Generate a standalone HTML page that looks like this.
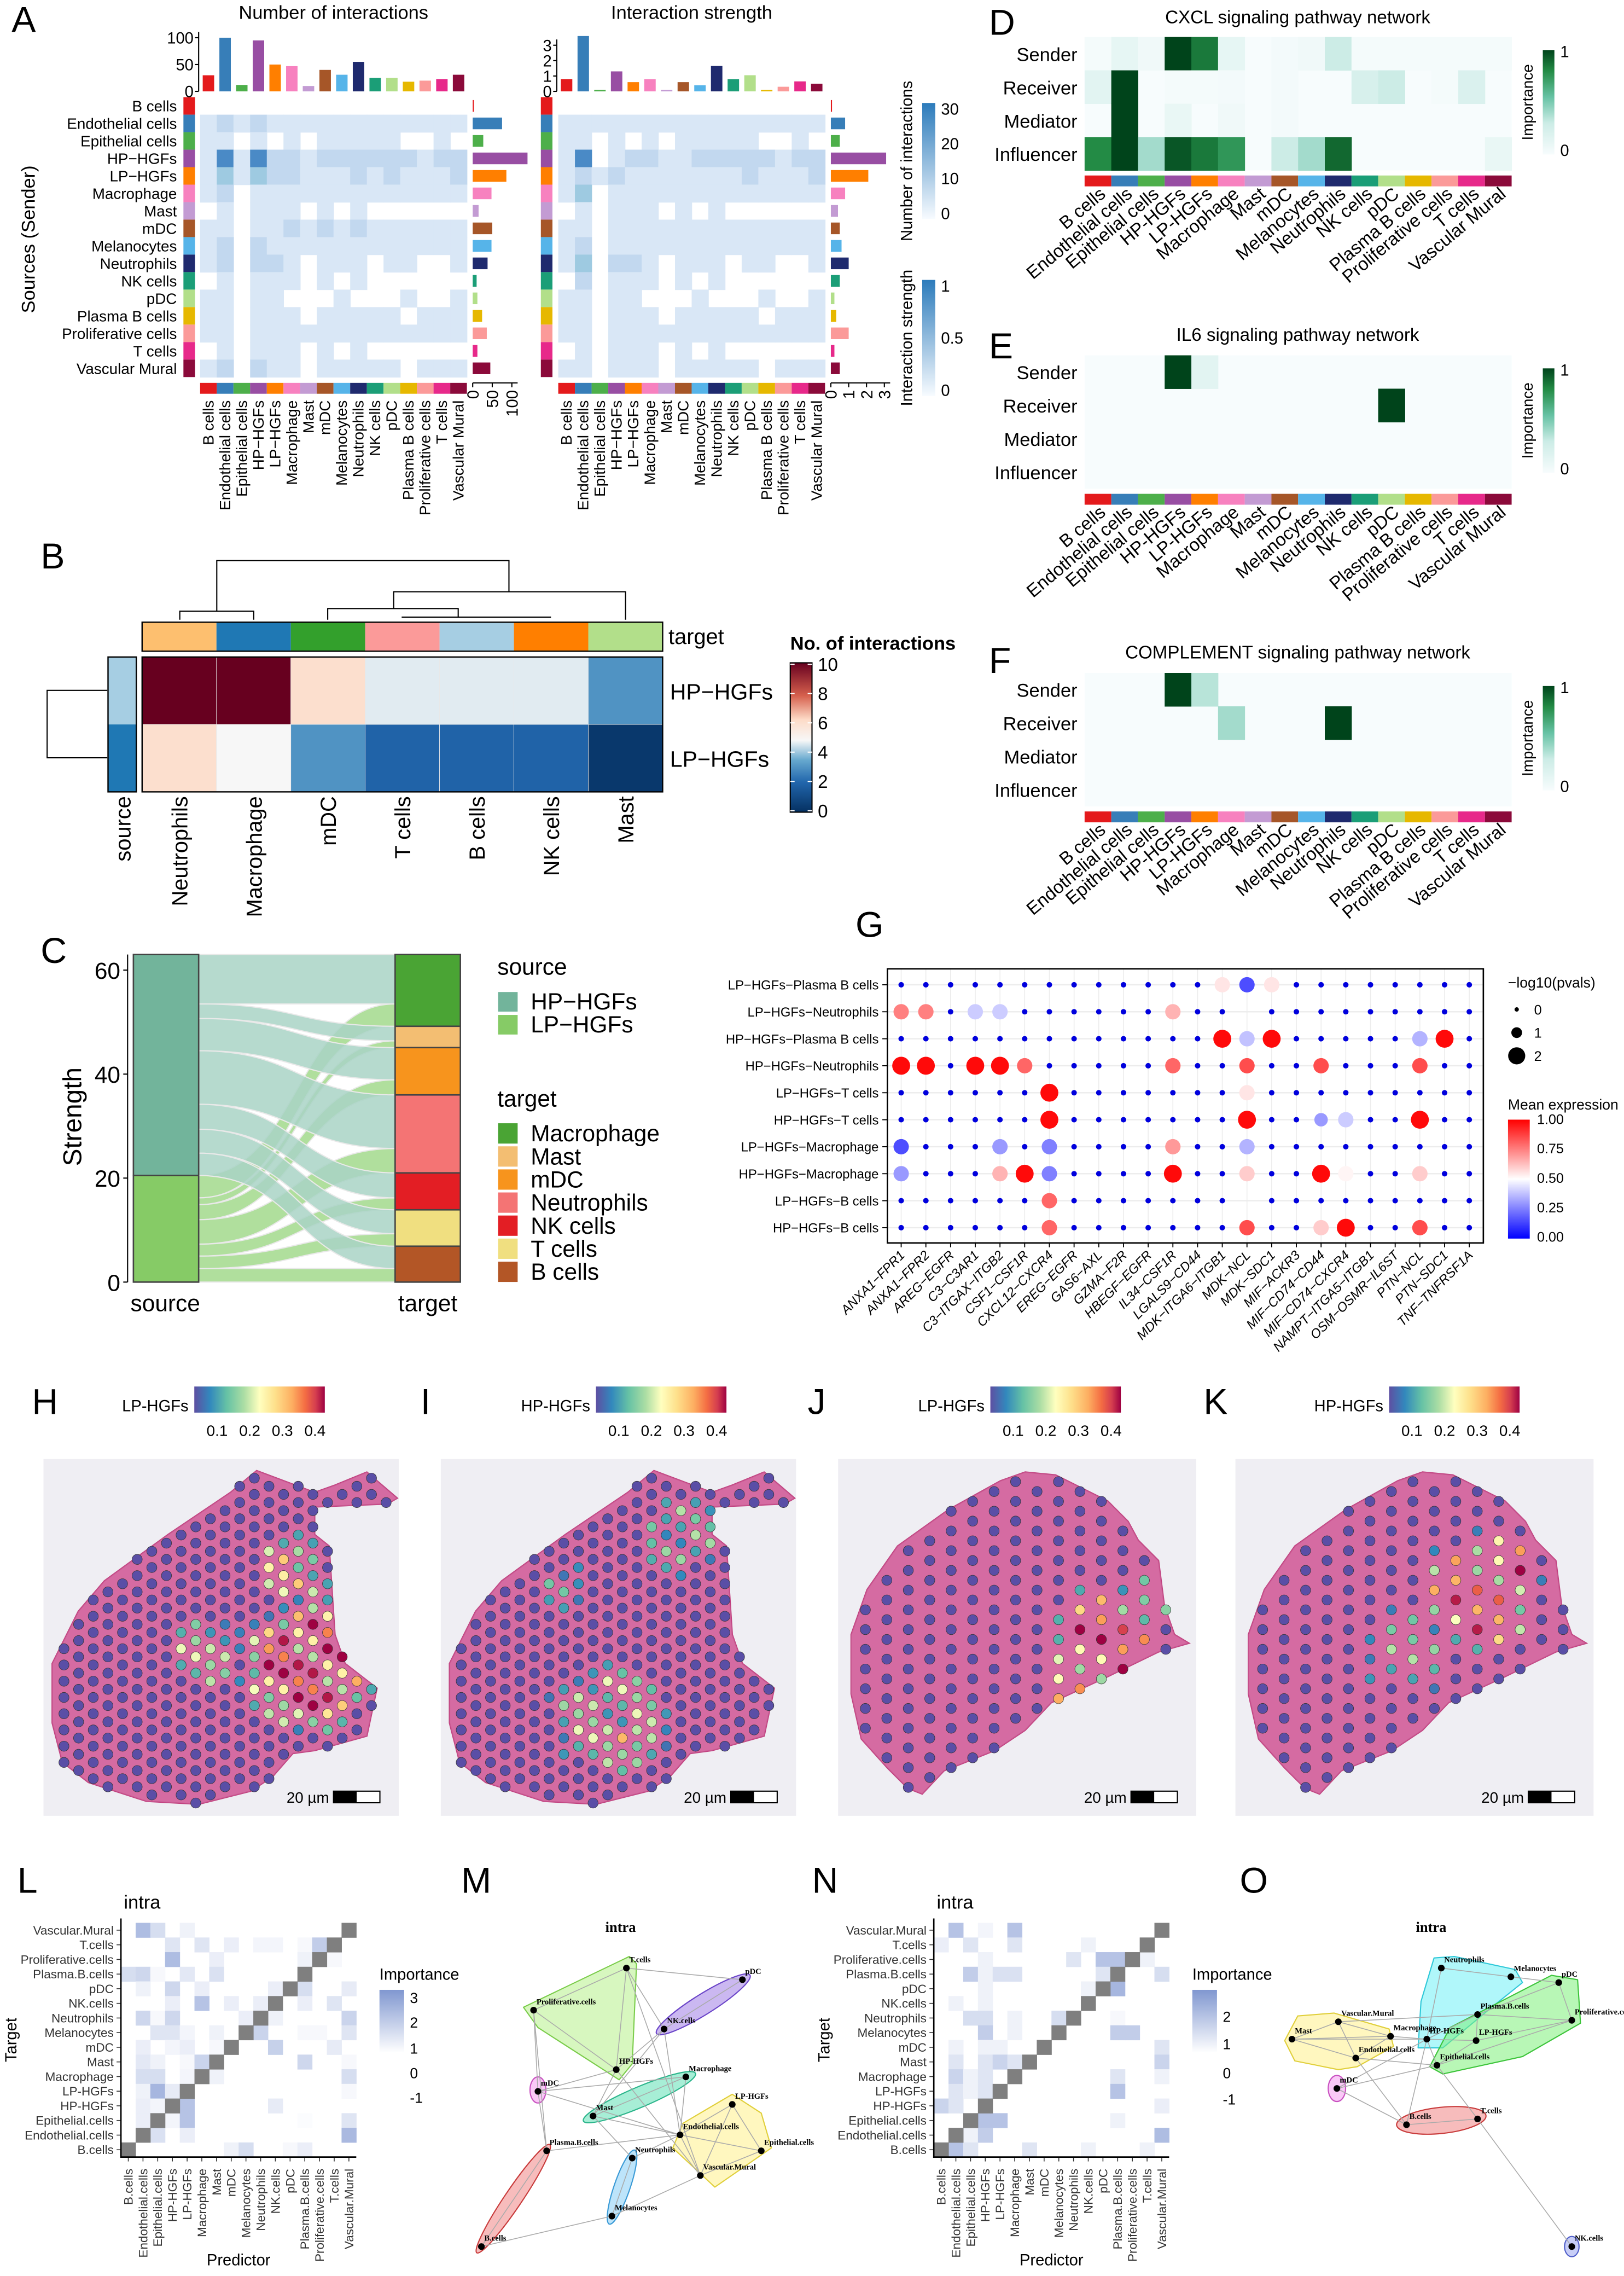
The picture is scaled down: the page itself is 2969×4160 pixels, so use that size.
<!DOCTYPE html>
<html><head><meta charset="utf-8"><title>Figure</title>
<style>
html,body{margin:0;padding:0;background:#fff;}
svg{display:block;font-family:"Liberation Sans",Arial,sans-serif;}
</style></head>
<body>
<svg id="fig" xmlns="http://www.w3.org/2000/svg" width="2969" height="4160" viewBox="0 0 1120 1569.3" preserveAspectRatio="none">
<defs>
<linearGradient id="gBlue" x1="0" y1="1" x2="0" y2="0"><stop offset="0" stop-color="#f7fbff"/><stop offset="1" stop-color="#2c7bbb"/></linearGradient>
<linearGradient id="gGreen" x1="0" y1="1" x2="0" y2="0"><stop offset="0" stop-color="#f7fcfd"/><stop offset="0.3" stop-color="#ccece6"/><stop offset="0.55" stop-color="#66c2a4"/><stop offset="0.8" stop-color="#238b45"/><stop offset="1" stop-color="#00441b"/></linearGradient>
<linearGradient id="gRdBu" x1="0" y1="1" x2="0" y2="0"><stop offset="0" stop-color="#053061"/><stop offset="0.2" stop-color="#2166ac"/><stop offset="0.35" stop-color="#67a9cf"/><stop offset="0.48" stop-color="#f7f7f7"/><stop offset="0.62" stop-color="#fddbc7"/><stop offset="0.78" stop-color="#d6604d"/><stop offset="1" stop-color="#67001f"/></linearGradient>
<linearGradient id="gBWR" x1="0" y1="1" x2="0" y2="0"><stop offset="0" stop-color="#0000ff"/><stop offset="0.5" stop-color="#ffffff"/><stop offset="1" stop-color="#ff0000"/></linearGradient>
<linearGradient id="gSpec" x1="0" y1="0" x2="1" y2="0"><stop offset="0" stop-color="#5e4fa2"/><stop offset="0.12" stop-color="#3288bd"/><stop offset="0.25" stop-color="#66c2a5"/><stop offset="0.38" stop-color="#abdda4"/><stop offset="0.5" stop-color="#ffffbf"/><stop offset="0.62" stop-color="#fee08b"/><stop offset="0.75" stop-color="#fdae61"/><stop offset="0.85" stop-color="#f46d43"/><stop offset="0.93" stop-color="#d53e4f"/><stop offset="1" stop-color="#9e0142"/></linearGradient>
<linearGradient id="gImp" x1="0" y1="1" x2="0" y2="0"><stop offset="0" stop-color="#ffffff"/><stop offset="0.3" stop-color="#ffffff"/><stop offset="1" stop-color="#8097d0"/></linearGradient>
</defs>
</svg>
<script>
// ---------- data ----------
const cells=["B cells","Endothelial cells","Epithelial cells","HP−HGFs","LP−HGFs","Macrophage","Mast","mDC","Melanocytes","Neutrophils","NK cells","pDC","Plasma B cells","Proliferative cells","T cells","Vascular Mural"];
const cellColors=["#e41a1c","#377eb8","#4daf4a","#984ea3","#ff7f00","#f781bf","#c39bd3","#a65628","#56b4e9","#1f2a6e","#1b9e77","#b2df8a","#e6b800","#fb9a99","#e7298a","#8b0a3a"];
const countTop=[30,100,12,95,50,47,10,40,31,55,25,25,18,20,23,31];
const countRight=[2,75,27,140,86,48,15,50,48,38,10,12,24,36,12,45];
const strengthTop=[0.8,3.6,0.1,1.3,0.6,0.8,0.1,0.6,0.4,1.65,0.8,1.05,0.1,0.3,0.65,0.5];
const strengthRight=[0.05,0.8,0.5,3.1,2.1,0.8,0.4,0.5,0.6,1.0,0.5,0.2,0.3,1.0,0.2,0.5];
const countMatrix=["0000000000000000","1212111111111111","1101010111110010","1414221222222122","1313221112121112","1201111111111111","0101110101000000","1101121212111111","1202111111111111","1202210111011001","0101110101000000","1101100010001001","1101110111110111","1101111111111111","0101110101000000","1202110111110111"];
const strengthMatrix=["0000000000000000","1111111111111111","1101010111110010","1401221122222122","1212111111121112","1301111111111111","0101110101000000","1101111111111111","1201111111111111","1302210111011001","0201110101000000","1101100010001001","1101110111110111","1101111111111111","0101110101000000","1101110111110111"];
const roleRows=["Sender","Receiver","Mediator","Influencer"];
const cxclVals=[[0.02,0.12,0.05,1,0.85,0.12,0,0.03,0.05,0.3,0.02,0.02,0.02,0.02,0.02,0.02],[0.15,1,0,0.02,0.02,0.03,0,0.03,0,0,0.22,0.3,0,0.02,0.2,0],[0,1,0,0.1,0,0.05,0,0.03,0,0,0,0,0,0,0,0],[0.8,1,0.4,0.95,0.85,0.75,0,0.3,0.4,0.9,0,0,0,0,0,0.1]];
const il6Vals=[[0,0,0,1,0.15,0,0,0,0,0,0,0,0,0,0,0],[0,0,0,0,0,0,0,0,0,0,0,1,0,0,0,0],[0,0,0,0,0,0,0,0,0,0,0,0,0,0,0,0],[0,0,0,0,0,0,0,0,0,0,0,0,0,0,0,0]];
const compVals=[[0,0,0,1,0.35,0,0,0,0,0,0,0,0,0,0,0],[0,0,0,0,0,0.4,0,0,0,1,0,0,0,0,0,0],[0,0,0,0,0,0,0,0,0,0,0,0,0,0,0,0],[0,0,0,0,0,0,0,0,0,0,0,0,0,0,0,0]];
const bTargets=["Neutrophils","Macrophage","mDC","T cells","B cells","NK cells","Mast"];
const bTargetColors=["#fdbf6f","#1f78b4","#33a02c","#fb9a99","#a6cee3","#ff7f00","#b2df8a"];
const bSources=["HP−HGFs","LP−HGFs"];
const bSourceColors=["#a6cee3","#1f78b4"];
const bValsHP=[10,10,6,4.6,4.6,4.6,3];
const bValsLP=[6,4.8,3,1.9,1.9,1.9,0.3];
const cTargets=["Macrophage","Mast","mDC","Neutrophils","NK cells","T cells","B cells"];
const cTargetColors=["#4aa434","#f3be72","#f7941d","#f47474","#e31e24","#f0df80","#b35626"];
const cHP=[9.5,2.8,6.2,10.3,4.8,4.6,4.3];
const cLP=[4.3,1.3,2.9,4.7,2.3,2.4,2.6];
const gRows=["LP−HGFs−Plasma B cells","LP−HGFs−Neutrophils","HP−HGFs−Plasma B cells","HP−HGFs−Neutrophils","LP−HGFs−T cells","HP−HGFs−T cells","LP−HGFs−Macrophage","HP−HGFs−Macrophage","LP−HGFs−B cells","HP−HGFs−B cells"];
const gCols=["ANXA1−FPR1","ANXA1−FPR2","AREG−EGFR","C3−C3AR1","C3−ITGAX−ITGB2","CSF1−CSF1R","CXCL12−CXCR4","EREG−EGFR","GAS6−AXL","GZMA−F2R","HBEGF−EGFR","IL34−CSF1R","LGALS9−CD44","MDK−ITGA6−ITGB1","MDK−NCL","MDK−SDC1","MIF−ACKR3","MIF−CD74−CD44","MIF−CD74−CXCR4","NAMPT−ITGA5−ITGB1","OSM−OSMR−IL6ST","PTN−NCL","PTN−SDC1","TNF−TNFRSF1A"];
// [row, col, -log10p, mean expression]
const gDots=[[0,13,1.5,0.55],[0,14,1.5,0.15],[0,15,1.5,0.55],
[1,0,1.5,0.75],[1,1,1.5,0.75],[1,3,1.5,0.4],[1,4,1.5,0.4],[1,11,1.5,0.65],[1,14,-1,0.5],
[2,13,1.9,0.98],[2,14,1.5,0.38],[2,15,1.9,0.98],[2,21,1.5,0.35],[2,22,1.9,0.98],
[3,0,1.9,0.98],[3,1,1.9,0.98],[3,3,1.9,0.98],[3,4,1.9,0.98],[3,5,1.5,0.8],[3,11,1.5,0.8],[3,14,1.5,0.85],[3,17,1.5,0.85],[3,21,1.5,0.85],
[4,6,1.9,0.98],[4,14,1.5,0.55],
[5,6,1.9,0.98],[5,14,1.9,0.98],[5,17,1.2,0.3],[5,18,1.5,0.4],[5,21,1.9,0.98],
[6,0,1.5,0.15],[6,4,1.5,0.3],[6,6,1.5,0.25],[6,11,1.5,0.7],[6,14,1.5,0.35],
[7,0,1.5,0.3],[7,4,1.5,0.65],[7,5,1.9,0.98],[7,6,1.5,0.25],[7,11,1.9,0.98],[7,14,1.5,0.6],[7,17,1.9,0.98],[7,18,1.5,0.52],[7,21,1.5,0.6],
[8,6,1.5,0.8],[8,14,-1,0.5],
[9,6,1.5,0.8],[9,14,1.5,0.85],[9,17,1.5,0.6],[9,18,1.9,0.98],[9,21,1.5,0.85]];
const impRows=["Vascular.Mural","T.cells","Proliferative.cells","Plasma.B.cells","pDC","NK.cells","Neutrophils","Melanocytes","mDC","Mast","Macrophage","LP-HGFs","HP-HGFs","Epithelial.cells","Endothelial.cells","B.cells"];
const impCols=["B.cells","Endothelial.cells","Epithelial.cells","HP-HGFs","LP-HGFs","Macrophage","Mast","mDC","Melanocytes","Neutrophils","NK.cells","pDC","Plasma.B.cells","Proliferative.cells","T.cells","Vascular.Mural"];
// [rowFromTop, col, importance]
const impL=[[0,1,2],[0,2,1],[0,4,0.4],[1,3,0.8],[1,5,0.8],[1,7,0.5],[1,9,0.3],[1,10,0.3],[1,12,0.2],[1,13,1.5],[2,3,2],[2,6,0.5],[2,12,0.4],[2,14,0.2],[3,0,1],[3,1,1.2],[3,2,0.2],[3,4,0.7],[3,6,0.9],[4,1,0.4],[4,3,1.2],[4,5,0.5],[4,10,0.5],[4,12,1],[4,15,0.6],[5,3,0.5],[5,5,1.8],[5,7,0.5],[5,9,0.5],[5,12,0.5],[5,14,0.8],[6,1,1.2],[6,2,0.2],[6,3,1.2],[6,8,0.5],[6,10,0.4],[6,15,1.3],[7,2,0.8],[7,3,0.8],[7,4,0.3],[7,6,0.4],[7,9,1.3],[7,12,0.2],[7,13,0.2],[7,15,0.8],[8,1,0.5],[8,3,0.3],[8,4,0.5],[8,6,0.2],[8,10,1.4],[8,14,0.6],[9,1,0.7],[9,2,0.4],[9,4,0.2],[9,5,1.3],[9,12,1.2],[9,15,0.2],[10,1,1],[10,2,1],[10,4,0.3],[10,6,0.4],[10,15,1],[11,1,0.4],[11,2,2.2],[11,3,0.6],[11,15,0.2],[12,1,0.5],[12,2,0.3],[12,4,1.8],[12,10,0.6],[13,1,0.5],[13,3,0.3],[13,4,1.8],[13,12,0.1],[13,15,0.8],[14,2,0.9],[14,4,0.5],[14,15,2.1],[15,7,0.4],[15,8,1],[15,11,0.2],[15,12,0.5]];
const impN=[[0,1,1.8],[0,3,0.3],[0,5,1.8],[1,0,0.5],[1,2,0.8],[1,5,0.8],[1,10,0.4],[2,3,0.4],[2,9,0.8],[2,11,1.8],[2,12,1.8],[2,14,0.4],[3,2,1.5],[3,3,0.4],[3,4,0.9],[3,5,0.9],[3,11,0.8],[3,15,1],[4,3,0.4],[4,10,0.4],[4,12,2.2],[5,1,0.4],[5,3,0.4],[6,2,1],[6,3,1],[6,5,0.4],[6,8,1],[6,12,0.2],[7,3,1.5],[7,5,0.4],[7,12,1.5],[7,13,1.5],[8,1,0.4],[8,3,0.4],[8,4,0.4],[8,15,0.8],[9,1,0.8],[9,3,0.8],[9,4,1.3],[9,5,0.8],[9,15,1.3],[10,1,1.3],[10,2,0.4],[10,3,0.8],[10,12,0.8],[10,15,0.4],[11,1,0.8],[11,2,0.4],[11,3,0.8],[11,12,1.8],[12,0,1.3],[12,1,0.8],[12,3,0.8],[12,15,0.5],[13,3,1.8],[13,4,1.8],[13,12,0.4],[14,2,0.4],[14,3,1.5],[14,15,2],[15,1,1.8],[15,2,0.8],[15,6,0.8],[15,10,0.4],[15,14,0.4]];

// ---------- helpers ----------
const NS="http://www.w3.org/2000/svg";
const svg=document.getElementById("fig");
function mk(tag,attrs,parent){const e=document.createElementNS(NS,tag);for(const k in attrs)e.setAttribute(k,attrs[k]);(parent||svg).appendChild(e);return e;}
function tx(s,x,y,size,extra,parent){const a=Object.assign({x:x,y:y,"font-size":size,fill:"#000"},extra||{});const e=mk("text",a,parent);e.textContent=s;return e;}
function grp(parent){return mk("g",{},parent);}
function lerpHex(a,b,t){const pa=[1,3,5].map(i=>parseInt(a.substr(i,2),16)),pb=[1,3,5].map(i=>parseInt(b.substr(i,2),16));return "rgb("+pa.map((v,i)=>Math.round(v+(pb[i]-v)*t)).join(",")+")";}
function ramp(stops,cols,v){v=Math.max(stops[0],Math.min(stops[stops.length-1],v));for(let i=0;i<stops.length-1;i++){if(v<=stops[i+1]){return lerpHex(cols[i],cols[i+1],(v-stops[i])/(stops[i+1]-stops[i]));}}return cols[cols.length-1];}
const greens=v=>ramp([0,0.3,0.55,0.8,1],["#f7fcfd","#ccece6","#66c2a4","#238b45","#00441b"],v);
const rdbu=v=>ramp([0,2,3.5,4.8,6.2,7.8,10],["#053061","#2166ac","#67a9cf","#f7f7f7","#fddbc7","#d6604d","#67001f"],v);
const bwr=v=>ramp([0,0.5,1],["#0000ff","#ffffff","#ff0000"],v);
const spectral=v=>ramp([0,0.12,0.25,0.38,0.5,0.62,0.75,0.85,0.93,1],["#5e4fa2","#3288bd","#66c2a5","#abdda4","#ffffbf","#fee08b","#fdae61","#f46d43","#d53e4f","#9e0142"],v);
const impColor=v=>ramp([0,3.2],["#ffffff","#7d95d0"],v);
const levelBlue=["#ffffff","#d9e7f6","#c2d8ef","#9ecae1","#4a8ac6","#2f73b5"];

// ---------- panel letters ----------
const letters=[["A",8,22],["B",28,392],["C",28,664],["D",682,24],["E",682,247],["F",682,464],["G",590,646],["H",22,975],["I",290,975],["J",557,975],["K",830,975],["L",12,1305],["M",318,1305],["N",560,1305],["O",855,1305]];
letters.forEach(l=>{const t=tx(l[0],l[1],l[2],25,{});

});

// ---------- Panel A ----------
function drawA(cfg){
  const g=grp();
  
  
  const x0=cfg.x0,x1=cfg.x1,y0=67,y1=260,n=16,cw=(x1-x0)/n,rh=(y1-y0)/n;
  tx(cfg.title,(x0+x1)/2,13,13,{"text-anchor":"middle"},g);
  for(let r=0;r<n;r++)for(let c=0;c<n;c++){const lv=+cfg.matrix[r][c];if(lv===0)continue;
    const rc=mk("rect",{x:x0+c*cw,y:y0+r*rh,width:cw+0.3,height:rh+0.3,fill:levelBlue[lv]},g);
    
    }
  for(let i=0;i<n;i++){
    const s=mk("rect",{x:cfg.stripX,y:y0+i*rh,width:8,height:rh,fill:cellColors[i]},g);
    
    
    const b=mk("rect",{x:x0+i*cw,y:264,width:cw,height:7.5,fill:cellColors[i]},g);
    
    
    const lab=tx(cells[i],x0+i*cw+cw/2+3.5,276,10.5,{"text-anchor":"end",transform:"rotate(-90 "+(x0+i*cw+cw/2+3.5)+" 276)"},g);
    
    
    if(cfg.rowLabels){const rl=tx(cells[i],122,y0+i*rh+rh/2+3.8,10.5,{"text-anchor":"end"},g);
      
      }
  }
  const ty=v=>63-v*cfg.topScale;
  mk("line",{x1:x0-1,y1:ty(0),x2:x0-1,y2:ty(cfg.topTicks[cfg.topTicks.length-1])-4,stroke:"#000","stroke-width":0.8},g);
  cfg.topTicks.forEach(t=>{mk("line",{x1:x0-3.5,y1:ty(t),x2:x0-1,y2:ty(t),stroke:"#000","stroke-width":0.8},g);tx(String(t),x0-4.5,ty(t)+4,11,{"text-anchor":"end"},g);});
  cfg.top.forEach((v,i)=>{const b=mk("rect",{x:x0+i*cw+1.8,y:ty(v),width:cw-3.6,height:v*cfg.topScale,fill:cellColors[i]},g);
    
    });
  const rx=v=>cfg.rx0+v*cfg.rightScale;
  mk("line",{x1:rx(0),y1:264,x2:rx(cfg.rightTicks[cfg.rightTicks.length-1])+4,y2:264,stroke:"#000","stroke-width":0.8},g);
  cfg.rightTicks.forEach(t=>{mk("line",{x1:rx(t),y1:264,x2:rx(t),y2:267,stroke:"#000","stroke-width":0.8},g);tx(String(t),rx(t)+4,269,11,{"text-anchor":"end",transform:"rotate(-90 "+(rx(t)+4)+" 269)"},g);});
  cfg.right.forEach((v,i)=>{const b=mk("rect",{x:rx(0),y:y0+i*rh+2,width:Math.max(v*cfg.rightScale,0.8),height:rh-4,fill:cellColors[i]},g);
    
    });
}
drawA({name:"interaction-count-heatmap",title:"Number of interactions",x0:138,x1:322,stripX:126.5,matrix:countMatrix,rowLabels:true,top:countTop,topScale:0.37,topTicks:[0,50,100],right:countRight,rx0:326,rightScale:0.27,rightTicks:[0,50,100]});
drawA({name:"interaction-strength-heatmap",title:"Interaction strength",x0:385,x1:569,stripX:373,matrix:strengthMatrix,rowLabels:false,top:strengthTop,topScale:10.6,topTicks:[0,1,2,3],right:strengthRight,rx0:573,rightScale:12.3,rightTicks:[0,1,2,3]});
{const t=tx("Sources (Sender)",24,165,13,{"text-anchor":"middle",transform:"rotate(-90 24 165)"});

}
[[71,151,["30","20","10","0"],"Number of interactions"],[193,273,["1","0.5","0"],"Interaction strength"]].forEach((c,k)=>{
  const g=grp();
  
  
  mk("rect",{x:636,y:c[0],width:9,height:c[1]-c[0],fill:"url(#gBlue)"},g);
  c[2].forEach((s,i)=>{const y=c[0]+4+(c[1]-c[0]-8)*i/(c[2].length-1);tx(s,649,y+4,11,{},g);});
  tx(c[3],629,(c[0]+c[1])/2,11,{"text-anchor":"middle",transform:"rotate(-90 629 "+((c[0]+c[1])/2)+")"},g);
});

// ---------- Panels D/E/F ----------
function drawRole(cfg){
  const g=grp();
  
  
  const x0=748,x1=1042.5,cw=(x1-x0)/16,rh=23;
  tx(cfg.title,895,cfg.titleY,12.5,{"text-anchor":"middle"},g);
  mk("rect",{x:x0,y:cfg.y0,width:x1-x0,height:rh*4,fill:"#f7fcfd"},g);
  cfg.vals.forEach((row,r)=>{row.forEach((v,c)=>{if(v<=0)return;
    const rc=mk("rect",{x:x0+c*cw,y:cfg.y0+r*rh,width:cw+0.2,height:rh+0.2,fill:greens(v)},g);
    
    });
    tx(roleRows[r],743,cfg.y0+r*rh+rh/2+5,13,{"text-anchor":"end"},g);});
  const sy=cfg.y0+rh*4+3.5;
  for(let i=0;i<16;i++){
    const s=mk("rect",{x:x0+i*cw,y:sy,width:cw,height:7.5,fill:cellColors[i]},g);
    
    
    const lx=x0+i*cw+cw/2+6,ly=sy+14;
    tx(cells[i].replace("−","-"),lx,ly,12.5,{"text-anchor":"end",transform:"rotate(-40 "+lx+" "+ly+")"},g);}
  const cb=cfg.y0+9;
  mk("rect",{x:1064,y:cb,width:8,height:72,fill:"url(#gGreen)"},g);
  tx("1",1076,cb+5,11,{},g);tx("0",1076,cb+73,11,{},g);
  tx("Importance",1057,cb+36,10.5,{"text-anchor":"middle",transform:"rotate(-90 1057 "+(cb+36)+")"},g);
}
drawRole({name:"cxcl-role-heatmap",title:"CXCL signaling pathway network",titleY:16,y0:25.5,vals:cxclVals});
drawRole({name:"il6-role-heatmap",title:"IL6 signaling pathway network",titleY:235,y0:245,vals:il6Vals});
drawRole({name:"complement-role-heatmap",title:"COMPLEMENT signaling pathway network",titleY:454,y0:464,vals:compVals});

// ---------- Panel B ----------
{const g=grp();


const x0=98,x1=457,cw=(x1-x0)/7,y0=453,rh=46.5;
const dl=(pts)=>mk("polyline",{points:pts,fill:"none",stroke:"#000","stroke-width":0.8},g);
dl("149.5,421.4 149.5,386.5 351,386.5 351,408");
dl("124,427.3 124,421.4 175,421.4 175,427.3");
dl("271.5,419.6 271.5,408 431.4,408 431.4,427.3");
dl("226,427.3 226,419.6 316,419.6 316,425.5");
dl("277,425.5 380,425.5");
dl("74,476 32.5,476 32.5,522.5 74,522.5");
bTargets.forEach((t,i)=>{
  const s=mk("rect",{x:x0+i*cw,y:429,width:cw,height:20,fill:bTargetColors[i]},g);
  
  
  [bValsHP[i],bValsLP[i]].forEach((v,r)=>{const c=mk("rect",{x:x0+i*cw,y:y0+r*rh,width:cw,height:rh,fill:rdbu(v),stroke:"#e8e8e8","stroke-width":0.3},g);
    
    });
  const lx=x0+i*cw+cw/2+5.5;
  tx(t,lx,549,15,{"text-anchor":"end",transform:"rotate(-90 "+lx+" 549)"},g);
});
mk("rect",{x:x0,y:429,width:x1-x0,height:20,fill:"none",stroke:"#000","stroke-width":0.9},g);
mk("rect",{x:x0,y:y0,width:x1-x0,height:rh*2,fill:"none",stroke:"#000","stroke-width":0.9},g);
bSources.forEach((s,r)=>{mk("rect",{x:74.5,y:y0+r*rh,width:19.5,height:rh,fill:bSourceColors[r]},g);
  tx(s,462,y0+r*rh+rh/2+6,15.5,{},g);});
mk("rect",{x:74.5,y:y0,width:19.5,height:rh*2,fill:"none",stroke:"#000","stroke-width":0.9},g);
tx("target",461,444,15,{},g);
tx("source",90,549,15,{"text-anchor":"end",transform:"rotate(-90 90 549)"},g);
const lg=grp(g);


tx("No. of interactions",545,448,13,{"font-weight":"bold"},lg);
mk("rect",{x:545,y:457,width:15,height:103,fill:"url(#gRdBu)",stroke:"#000","stroke-width":0.8},lg);
[10,8,6,4,2,0].forEach(v=>{const y=559-v*10.1;mk("line",{x1:545,y1:y,x2:548,y2:y,stroke:"#fff","stroke-width":0.8},lg);mk("line",{x1:557,y1:y,x2:560,y2:y,stroke:"#fff","stroke-width":0.8},lg);tx(String(v),564,y+4.5,12.5,{},lg);});
}

// ---------- Panel C ----------
{const g=grp();


const yv=v=>884-v*3.585;
const sx0=92,sx1=137,tx0=272.5,tx1=317.5;
const hpTot=cHP.reduce((a,b)=>a+b,0),lpTot=cLP.reduce((a,b)=>a+b,0),tot=hpTot+lpTot;
let sHP=tot,sLP=lpTot,tTop=tot;
const ribbons=grp(g);


cTargets.forEach((t,i)=>{
  [[cHP[i],"hp"],[cLP[i],"lp"]].forEach(f=>{
    const v=f[0];let a;
    if(f[1]==="hp"){a=sHP;sHP-=v;}else{a=sLP;sLP-=v;}
    const b=tTop;tTop-=v;
    const ya1=yv(a),ya2=yv(a-v),yb1=yv(b),yb2=yv(b-v),mx=(sx1+tx0)/2;
    const p=mk("path",{d:`M${sx1},${ya1} C${mx},${ya1} ${mx},${yb1} ${tx0},${yb1} L${tx0},${yb2} C${mx},${yb2} ${mx},${ya2} ${sx1},${ya2} Z`,fill:f[1]==="hp"?"#a9d3c6":"#a2d98c","fill-opacity":0.85,stroke:"#e9e9e9","stroke-width":0.8},ribbons);
    
    
  });
});
const hb=mk("rect",{x:sx0,y:yv(tot),width:sx1-sx0,height:hpTot*3.585,fill:"#72b49b",stroke:"#444","stroke-width":1},g);


const lb=mk("rect",{x:sx0,y:yv(lpTot),width:sx1-sx0,height:lpTot*3.585,fill:"#86cb66",stroke:"#444","stroke-width":1},g);


let top=tot;
cTargets.forEach((t,i)=>{const v=cHP[i]+cLP[i];
  const r=mk("rect",{x:tx0,y:yv(top),width:tx1-tx0,height:v*3.585,fill:cTargetColors[i],stroke:"#444","stroke-width":1},g);
  
  
  top-=v;});
mk("line",{x1:88,y1:yv(0),x2:88,y2:yv(63),stroke:"#000","stroke-width":0.8},g);
[0,20,40,60].forEach(t=>{mk("line",{x1:85,y1:yv(t),x2:88,y2:yv(t),stroke:"#000","stroke-width":0.8},g);tx(String(t),83,yv(t)+6,16,{"text-anchor":"end"},g);});
tx("Strength",56,770,18,{"text-anchor":"middle",transform:"rotate(-90 56 770)"},g);
tx("source",114,904,16,{"text-anchor":"middle"},g);
tx("target",295,904,16,{"text-anchor":"middle"},g);
const lg=grp(g);


tx("source",343,672,16,{},lg);
[["HP−HGFs","#72b49b"],["LP−HGFs","#86cb66"]].forEach((s,i)=>{mk("rect",{x:343.5,y:684+i*15.8,width:13.5,height:13.5,fill:s[1]},lg);tx(s[0],366,696+i*15.8,16,{},lg);});
tx("target",343,763,16,{},lg);
cTargets.forEach((t,i)=>{mk("rect",{x:343.5,y:774.5+i*15.9,width:13.5,height:14,fill:cTargetColors[i]},lg);tx(t,366,787+i*15.9,16,{},lg);});
}

// ---------- Panel G ----------
{const g=grp();


const fx0=612,fx1=1023,fy0=668,fy1=857;
const cx=c=>621.5+c*(1013.3-621.5)/23, cy=r=>679+r*(846.5-679)/9;
gCols.forEach((c,i)=>{mk("line",{x1:cx(i),y1:fy0,x2:cx(i),y2:fy1,stroke:"#ececec","stroke-width":0.6},g);});
gRows.forEach((r,i)=>{mk("line",{x1:fx0,y1:cy(i),x2:fx1,y2:cy(i),stroke:"#ececec","stroke-width":0.9},g);
  tx(r,606,cy(i)+3.3,9,{"text-anchor":"end"},g);
  mk("line",{x1:608.5,y1:cy(i),x2:fx0,y2:cy(i),stroke:"#000","stroke-width":0.7},g);});
const special={};gDots.forEach(d=>special[d[0]+"_"+d[1]]=d);
gRows.forEach((r,ri)=>gCols.forEach((c,ci)=>{
  const d=special[ri+"_"+ci];
  if(d&&d[2]<0)return;
  const rad=d?2+d[2]*2.2:1.9,col=d?bwr(d[3]):"#0000dd";
  const dot=mk("circle",{cx:cx(ci),cy:cy(ri),r:rad,fill:col},g);
  
  
}));
mk("rect",{x:fx0,y:fy0,width:fx1-fx0,height:fy1-fy0,fill:"none",stroke:"#000","stroke-width":1},g);
gCols.forEach((c,i)=>{mk("line",{x1:cx(i),y1:fy1,x2:cx(i),y2:fy1+3,stroke:"#000","stroke-width":0.7},g);
  const lx=cx(i)+3,ly=fy1+9;tx(c,lx,ly,9,{"text-anchor":"end","font-style":"italic",transform:"rotate(-45 "+lx+" "+ly+")"},g);});
const lg=grp(g);


tx("−log10(pvals)",1040,681,10,{},lg);
[0,1,2].forEach((v,i)=>{mk("circle",{cx:1046,cy:696+i*16,r:1.5+v*2.2,fill:"#000"},lg);tx(String(v),1058,699.5+i*16,9.5,{},lg);});
tx("Mean expression",1040,765,10,{},lg);
mk("rect",{x:1040,y:772,width:15,height:82,fill:"url(#gBWR)"},lg);
["1.00","0.75","0.50","0.25","0.00"].forEach((s,i)=>tx(s,1060,775+i*20.3,9.5,{},lg));
}

// ---------- Panels H-K (spatial spots) ----------
const tissueH=[[177,1014],[217,1029],[231,1024],[253,1015],[274,1033],[267,1037],[217,1039],[217,1058],[227,1066],[231,1127],[238,1147],[260,1164],[253,1197],[217,1207],[202,1209],[188,1225],[173,1235],[137,1244],[101,1242],[61,1229],[43,1215],[36,1188],[36,1147],[54,1111],[72,1090],[116,1058],[159,1029]];
const tissueJ=[[707,1015],[728,1017],[764,1035],[778,1049],[785,1062],[799,1076],[803,1107],[810,1127],[820,1133],[799,1139],[764,1156],[725,1174],[707,1193],[686,1207],[651,1221],[636,1237],[626,1233],[612,1219],[594,1199],[587,1168],[587,1127],[598,1096],[619,1066],[654,1041],[690,1021]];
// hotspot fields: [cx, cy, radius, value]
const hotH=[[212,1150,52,0.42],[142,1140,32,0.2],[200,1080,26,0.3],[225,1105,20,0.22]];
const hotI=[[470,1060,35,0.17],[420,1185,50,0.2],[440,1200,20,0.32],[390,1095,22,0.14]];
const hotJ=[[762,1132,45,0.4],[742,1165,22,0.35],[790,1105,20,0.25]];
const hotK=[[1020,1100,48,0.38],[1040,1080,25,0.4],[968,1140,38,0.17]];
function inPoly(x,y,poly){let ins=false;for(let i=0,j=poly.length-1;i<poly.length;j=i++){const xi=poly[i][0],yi=poly[i][1],xj=poly[j][0],yj=poly[j][1];if(((yi>y)!==(yj>y))&&(x<(xj-xi)*(y-yi)/(yj-yi)+xi))ins=!ins;}return ins;}
function drawSpatial(cfg){
  const g=grp();
  
  
  const poly=cfg.poly.map(p=>[p[0]+cfg.dx,p[1]]);
  mk("rect",{x:cfg.rx,y:1006,width:cfg.rw,height:246,fill:"#efeef3"},g);
  const t=mk("polygon",{points:poly.map(p=>p.join(",")).join(" "),fill:"#cf5795",stroke:"#c0407f","stroke-width":1},g);
  
  
  mk("polygon",{points:poly.map(p=>p.join(",")).join(" "),fill:"#e7a7cb","fill-opacity":0.25},g);
  const mods=[1,0.6,0.85,0.45,1.1];
  for(let i=0;i<40;i++)for(let j=0;j<30;j++){
    const x=cfg.rx+4+i*cfg.sx, y=1008+j*cfg.sy+(i%2?cfg.sy/2:0);
    if(!inPoly(x,y,poly))continue;
    let v=0;cfg.hot.forEach(h=>{const d=Math.hypot(x-h[0],y-h[1]);if(d<h[2]){const w=d<h[2]*0.55?1:1-(d-h[2]*0.55)/(h[2]*0.45);v=Math.max(v,h[3]*w);}});
    v*=mods[(i*3+j*2)%5];
    const col=v<0.06?"#5a4ea6":spectral(Math.min(1,(v-0.03)/0.4));
    const s=mk("circle",{cx:x,cy:y,r:3.5,fill:col,stroke:"#333","stroke-width":0.3},g);
    
    
  }
  tx(cfg.label,cfg.cbx-4,973,11,{"text-anchor":"end"},g);
  mk("rect",{x:cfg.cbx,y:956,width:90,height:18,fill:"url(#gSpec)"},g);
  [0.1,0.2,0.3,0.4].forEach(v=>{const x=cfg.cbx+(v-0.03)/0.4*90;tx(String(v),x,990,10.5,{"text-anchor":"middle"},g);});
  const sbx=cfg.rx+cfg.rw-45;
  tx("20 µm",sbx-3,1243,10.5,{"text-anchor":"end"},g);
  mk("rect",{x:sbx,y:1235,width:32,height:8,fill:"#fff",stroke:"#000","stroke-width":0.8},g);
  mk("rect",{x:sbx,y:1235,width:16,height:8,fill:"#000"},g);
}
drawSpatial({name:"spatial-lp-hgfs-1",poly:tissueH,dx:0,rx:30,rw:245,sx:10.1,sy:11.2,hot:hotH,label:"LP-HGFs",cbx:134});
drawSpatial({name:"spatial-hp-hgfs-1",poly:tissueH,dx:274,rx:304,rw:245,sx:10.1,sy:11.2,hot:hotI,label:"HP-HGFs",cbx:411});
drawSpatial({name:"spatial-lp-hgfs-2",poly:tissueJ,dx:0,rx:578,rw:247,sx:14.8,sy:13.6,hot:hotJ,label:"LP-HGFs",cbx:683});
drawSpatial({name:"spatial-hp-hgfs-2",poly:tissueJ,dx:274,rx:852,rw:247,sx:14.8,sy:13.6,hot:hotK,label:"HP-HGFs",cbx:958});

// ---------- Panels L, N ----------
function drawImp(cfg){
  const g=grp();
  
  
  const x0=cfg.x0,x1=x0+162.3,y0=1325.8,y1=1487.3,cw=(x1-x0)/16,rh=(y1-y0)/16;
  tx("intra",x0+2,1316,13,{},g);
  cfg.vals.forEach(v=>{const c=mk("rect",{x:x0+v[1]*cw,y:y0+v[0]*rh,width:cw+0.2,height:rh+0.2,fill:impColor(v[2])},g);
    
    });
  for(let r=0;r<16;r++){const d=mk("rect",{x:x0+(15-r)*cw,y:y0+r*rh,width:cw+0.2,height:rh+0.2,fill:"#7f7f7f"},g);
    
    
    tx(impRows[r],x0-5,y0+r*rh+rh/2+3,8.5,{"text-anchor":"end",fill:"#333"},g);
    mk("line",{x1:x0-3,y1:y0+r*rh+rh/2,x2:x0,y2:y0+r*rh+rh/2,stroke:"#333","stroke-width":0.6},g);
    const lx=x0+r*cw+cw/2+3;
    tx(impCols[r],lx,y1+8,8.5,{"text-anchor":"end",fill:"#333",transform:"rotate(-90 "+lx+" "+(y1+8)+")"},g);
    mk("line",{x1:x0+r*cw+cw/2,y1:y1,x2:x0+r*cw+cw/2,y2:y1+3,stroke:"#333","stroke-width":0.6},g);}
  mk("polyline",{points:`${x0},${y0-3} ${x0},${y1} ${x1},${y1}`,fill:"none",stroke:"#000","stroke-width":1},g);
  tx("Target",x0-72,(y0+y1)/2,11,{"text-anchor":"middle",transform:"rotate(-90 "+(x0-72)+" "+((y0+y1)/2)+")"},g);
  tx("Predictor",(x0+x1)/2,1562,11,{"text-anchor":"middle"},g);
  const lx=x1+16;
  tx("Importance",lx,1365,11,{},g);
  mk("rect",{x:lx,y:1372,width:17,height:62,fill:"url(#gImp)"},g);
  cfg.ticks.forEach((t,i)=>tx(t[0],lx+21,t[1]+4,10,{},g));
}
drawImp({name:"importance-heatmap-1",x0:83.4,vals:impL,ticks:[["3",1377],["2",1394],["1",1412],["0",1429],["-1",1446]]});
drawImp({name:"importance-heatmap-2",x0:644,vals:impN,ticks:[["2",1390],["1",1409],["0",1429],["-1",1447]]});

// ---------- Panels M, O (networks) ----------
const nodesM=[["T.cells",432,1357],["pDC",512,1365],["NK.cells",458,1399],["Proliferative.cells",368,1386],["HP-HGFs",425,1427],["Macrophage",473,1432],["mDC",371,1442],["Mast",409,1459],["LP-HGFs",505,1451],["Endothelial.cells",469,1472],["Epithelial.cells",525,1483],["Plasma.B.cells",377,1483],["Neutrophils",436,1488],["Vascular.Mural",483,1500],["Melanocytes",422,1528],["B.cells",332,1549]];
const edgesM=[[0,1],[0,3],[0,2],[0,4],[3,4],[3,11],[2,4],[2,7],[2,9],[1,2],[6,5],[6,9],[6,4],[6,11],[4,7],[5,7],[5,9],[8,9],[8,10],[8,13],[9,10],[9,13],[10,13],[7,9],[11,9],[11,15],[12,9],[12,14],[13,14],[14,15],[4,13],[0,13],[3,6],[7,12]];
const nodesO=[["Neutrophils",994,1357],["Melanocytes",1042,1363],["pDC",1075,1367],["Plasma.B.cells",1019,1389],["Proliferative.cells",1084,1393],["Vascular.Mural",923,1394],["Macrophage",959,1404],["HP-HGFs",984,1406],["LP-HGFs",1018,1407],["Mast",891,1406],["Endothelial.cells",935,1419],["Epithelial.cells",991,1424],["mDC",922,1440],["T.cells",1019,1461],["B.cells",970,1465],["NK.cells",1084,1549]];
const edgesO=[[0,1],[1,2],[0,7],[2,3],[2,4],[3,4],[3,8],[3,7],[4,8],[8,11],[7,11],[5,6],[5,9],[5,10],[6,9],[6,7],[6,10],[9,10],[9,7],[7,8],[10,11],[12,7],[12,11],[12,14],[13,14],[13,11],[14,10],[13,15],[5,3],[4,11],[14,7]];
function drawNet(cfg){
  const g=grp();
  
  
  tx("intra",cfg.tx,1332,10,{"text-anchor":"middle","font-weight":"bold","font-family":"Liberation Serif, serif"},g);
  cfg.hulls.forEach(h=>{let e;
    if(h[0]==="poly")e=mk("polygon",{points:h[1],fill:h[2],"fill-opacity":0.55,stroke:h[3],"stroke-width":0.8,"stroke-linejoin":"round"},g);
    else e=mk("ellipse",{cx:h[1],cy:h[2],rx:h[3],ry:h[4],transform:`rotate(${h[5]} ${h[1]} ${h[2]})`,fill:h[6],"fill-opacity":0.55,stroke:h[7],"stroke-width":0.8},g);
    
    });
  cfg.edges.forEach(ed=>{const a=cfg.nodes[ed[0]],b=cfg.nodes[ed[1]];
    const l=mk("line",{x1:a[1],y1:a[2],x2:b[1],y2:b[2],stroke:"#aaa","stroke-width":0.6},g);
    
    });
  cfg.nodes.forEach(n=>{const c=mk("circle",{cx:n[1],cy:n[2],r:2.3,fill:"#000"},g);
    
    
    tx(n[0],n[1]+2,n[2]-4,5.5,{"font-family":"Liberation Serif, serif","font-weight":"bold"},g);});
}
drawNet({name:"network-graph-1",tx:428,nodes:nodesM,edges:edgesM,hulls:[
 ["poly","361,1384 434,1349 439,1354 436,1423 427,1434 371,1398","#b6f08a","#7acc4a"],
 ["ell",485,1382,38,7,-32,"#a07de6","#6a44c8"],
 ["ell",441,1446,42,7,-23,"#5fe0b5","#2bb58b"],
 ["poly","505,1444 525,1457 532,1481 493,1508 464,1481 471,1464","#fff18a","#e0cf3a"],
 ["ell",354,1516,45,6,-56,"#f08585","#c83a3a"],
 ["ell",429,1508,27,5.5,109,"#86cdf5","#3a9ad6"],
 ["ell",371,1441,5.5,9,0,"#f59cf0","#c850c0"]]});
drawNet({name:"network-graph-2",tx:987,nodes:nodesO,edges:edgesO,hulls:[
 ["poly","886,1407 895,1390 920,1388 958,1399 961,1411 936,1425 923,1427 893,1421","#fff18a","#e0cf3a"],
 ["poly","989,1350 1003,1349 1045,1358 1050,1367 1030,1383 995,1412 978,1412 980,1380","#6ff0f5","#2ec8d8"],
 ["poly","1000,1398 1070,1362 1088,1365 1090,1395 1050,1418 995,1430 986,1425","#7ef07a","#3cc43a"],
 ["ell",994,1462,31,9,-6,"#f08585","#c83a3a"],
 ["ell",922,1440,6,9,0,"#f59cf0","#c850c0"],
 ["ell",1084,1549,5,7,0,"#9aa6f0","#4d5cc8"]]});
</script>
</body></html>
